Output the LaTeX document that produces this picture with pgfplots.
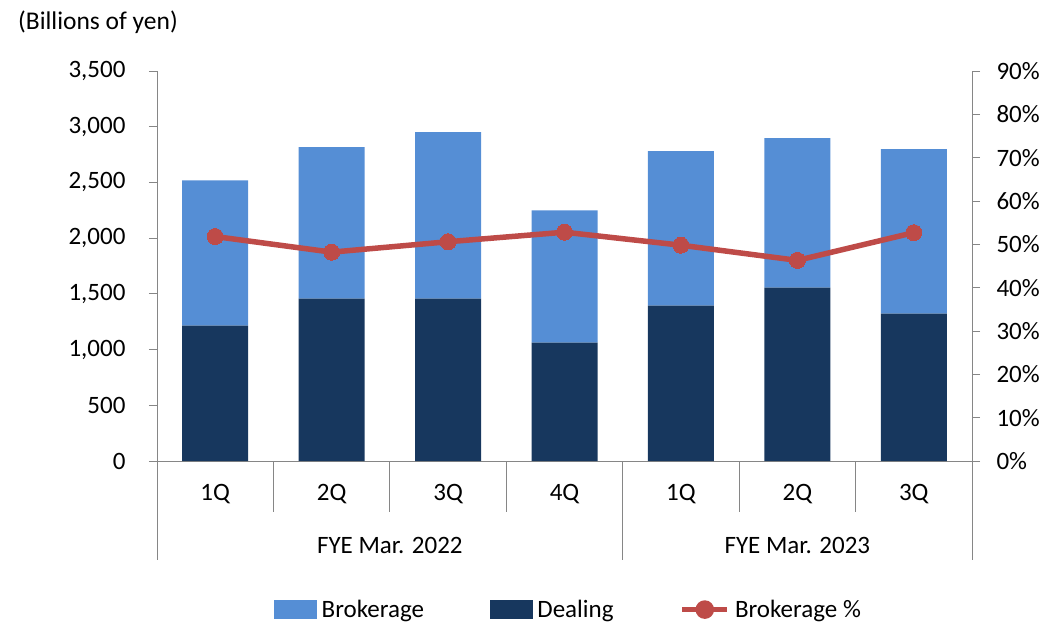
\documentclass[border=0pt]{standalone}
\usepackage{fontspec}
\setmainfont{Carlito}
\usepackage{pgfplots}
\pgfplotsset{compat=1.18}
\definecolor{lblue}{HTML}{558ED5}
\definecolor{navy}{HTML}{17375E}
\definecolor{lred}{HTML}{BE4B48}
\definecolor{axgray}{HTML}{868686}
\newcommand\cf{\fontsize{25}{30}\selectfont}
\begin{document}
\begin{tikzpicture}[x=1pt,y=1pt]
\useasboundingbox (0,0) rectangle (1044,625);
\node[anchor=west,inner sep=0pt,font=\fontsize{25.5}{30}\selectfont] at (18,603) {(Billions of yen)};
\begin{axis}[
  at={(157pt,164pt)}, anchor=south west,
  width=815pt, height=390pt, scale only axis,
  xmin=-0.5, xmax=6.5, ymin=0, ymax=3500,
  ybar stacked, bar width=66pt,
  axis x line*=bottom, axis y line*=left,
  axis line style={draw=axgray, line width=1pt, -},
  xtick={0,...,6}, xticklabels={1Q,2Q,3Q,4Q,1Q,2Q,3Q},
  x tick style={draw=none},
  xticklabel style={yshift=-12pt},
  ytick={0,500,...,3500},
  yticklabel style={xshift=-20pt},
  y tick style={draw=axgray, line width=1pt},
  tick align=outside, major tick length=8pt,
  tick label style={font=\cf},
  /pgf/number format/1000 sep={,},
  /pgf/number format/assume math mode=true,
  clip=false,
]
\addplot[fill=navy, draw=none] coordinates {(0,1215) (1,1458) (2,1458) (3,1062) (4,1395) (5,1557) (6,1323)};
\addplot[fill=lblue, draw=none] coordinates {(0,1304) (1,1358) (2,1493) (3,1187) (4,1385) (5,1340) (6,1475)};
\pgfplotsinvokeforeach{0.5,1.5,2.5,4.5,5.5}{
  \draw[axgray, line width=1pt] (axis cs:#1,0) -- ([yshift=-51pt]axis cs:#1,0);
}
\pgfplotsinvokeforeach{-0.5,3.5,6.5}{
  \draw[axgray, line width=1pt] (axis cs:#1,0) -- ([yshift=-99pt]axis cs:#1,0);
}
\node[font=\cf] at ([yshift=-84pt]axis cs:1.5,0) {FYE Mar. 2022};
\node[font=\cf] at ([yshift=-84pt]axis cs:5,0) {FYE Mar. 2023};
\end{axis}
\begin{axis}[
  at={(157pt,164pt)}, anchor=south west,
  width=815pt, height=390pt, scale only axis,
  xmin=-0.5, xmax=6.5, ymin=0, ymax=90,
  axis y line*=right, axis x line=none,
  axis line style={draw=axgray, line width=1pt, -},
  ytick={0,10,...,90},
  yticklabel={\pgfmathprintnumber{\tick}\%},
  yticklabel style={xshift=13pt},
  y tick style={draw=axgray, line width=1pt},
  tick align=outside, major tick length=8pt,
  tick label style={font=\cf},
  /pgf/number format/assume math mode=true,
  clip=false,
  legend columns=3,
  legend cell align=left,
  legend style={draw=none, fill=none, font=\cf, at={(axis description cs:0.505,-0.381)}, anchor=center,
    nodes={inner sep=2pt},
    /tikz/every odd column/.append style={column sep=3pt},
    /tikz/every even column/.append style={column sep=64pt}},
]
\addlegendimage{legend image code/.code={\fill[lblue] (0pt,-9pt) rectangle (42pt,9pt);}}
\addlegendentry{Brokerage}
\addlegendimage{legend image code/.code={\fill[navy] (0pt,-9pt) rectangle (42pt,9pt);}}
\addlegendentry{Dealing}
\addplot[lred, line width=5.5pt, mark=*, mark size=8pt, mark options={fill=lred, draw=lred, line width=0pt},
  legend image code/.code={\draw[lred, line width=5.5pt] (0pt,0pt) -- (45pt,0pt); \fill[lred] (22.5pt,0pt) circle (6.5pt);}]
  coordinates {(0,51.8) (1,48.2) (2,50.6) (3,52.8) (4,49.8) (5,46.3) (6,52.7)};
\addlegendentry{Brokerage \%}
\end{axis}
\end{tikzpicture}
\end{document}
